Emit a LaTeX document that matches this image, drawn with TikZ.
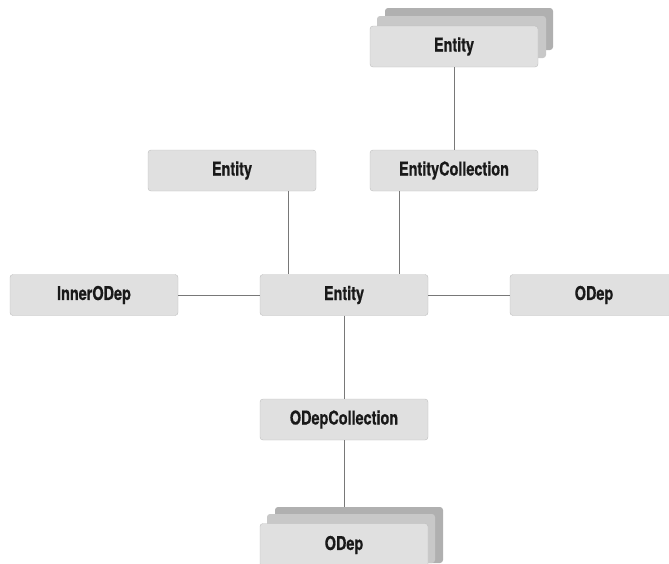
\documentclass[tikz,border=0pt]{standalone}
\usepackage{fontspec}
\setmainfont{TeX Gyre Heros}[FakeStretch=0.76,FakeBold=0.6]
\definecolor{boxfill}{RGB}{224,224,224}
\definecolor{boxline}{RGB}{190,190,190}
\definecolor{layerA}{RGB}{200,200,200}
\definecolor{layerB}{RGB}{176,176,176}
\definecolor{linkc}{RGB}{120,120,120}
\tikzset{
  ent/.style={draw=boxline, fill=boxfill, rounded corners=3pt, minimum width=168pt, minimum height=41pt, inner sep=0pt, font=\fontsize{19}{19}\selectfont\bfseries, text=black!90},
  layer/.style={rounded corners=3pt, draw=none},
  link/.style={draw=linkc, line width=0.9pt}
}
\begin{document}
\begin{tikzpicture}[x=1pt,y=-1pt]
\useasboundingbox (0,0) rectangle (669,563);
\clip (0,0) rectangle (669,563);
% stacked backgrounds
\fill[layerB, layer] (385,8) rectangle (553,50);
\fill[layerA, layer] (377,16) rectangle (546,58);
\fill[layerB, layer] (275,507) rectangle (443,563);
\fill[layerA, layer] (267,514) rectangle (435,563);
% nodes
\node[ent] (topE) at (454,46.5) {Entity};
\node[ent] (entL) at (232,170.5) {Entity};
\node[ent] (entColl) at (454,170.5) {EntityCollection};
\node[ent] (inner) at (94,295) {InnerODep};
\node[ent] (center) at (344,295) {Entity};
\node[ent] (odepR) at (594,295) {ODep};
\node[ent] (odepColl) at (344,419.5) {ODepCollection};
\node[ent, minimum height=43pt] (botO) at (344,545) {ODep};
% connectors
\draw[link] (topE.south) -- (entColl.north);
\draw[link] ([xshift=-28pt]entL.south east) -- ([xshift=-28pt]entL.south east |- center.north);
\draw[link] ([xshift=30pt]entColl.south west) -- ([xshift=30pt]entColl.south west |- center.north);
\draw[link] (inner.east) -- (center.west);
\draw[link] (center.east) -- (odepR.west);
\draw[link] (center.south) -- (odepColl.north);
\coordinate (botTop) at (344,507);
\draw[link] (odepColl.south) -- (botTop);
\end{tikzpicture}
\end{document}
